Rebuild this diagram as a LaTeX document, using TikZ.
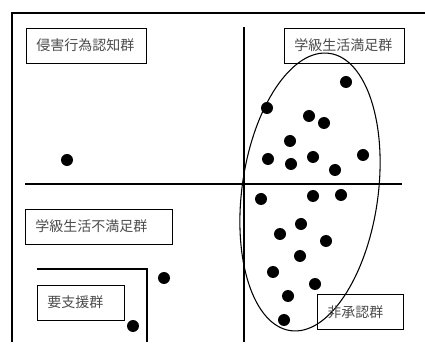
\documentclass[tikz,border=0pt]{standalone}
\usepackage{fontspec}
\newfontfamily\cjk{Noto Sans CJK JP}
\tikzset{
  grp/.style={draw,line width=0.6pt,text=black!70,
    font=\cjk\fontsize{10.5}{12}\selectfont,
    minimum height=26.25pt,inner xsep=7.5pt,align=left},
  dot/.style={circle,fill=black,inner sep=0pt,minimum size=9pt}
}
\begin{document}
\begin{tikzpicture}[x=0.75pt,y=-0.75pt]
  \useasboundingbox (0,0) rectangle (425,345);

  % Frame
  \coordinate (ftr) at (425,13);
  \coordinate (ftl) at (12,13);
  \coordinate (fbl) at (12,342);
  \draw[line width=1.4pt] (ftr) -- (ftl) -- (fbl);

  % Axes
  \coordinate (vt) at (244,27);
  \coordinate (vb) at (244,342);
  \coordinate (hl) at (25,184);
  \coordinate (hr) at (402,184);
  \draw[line width=1pt] (vt) -- (vb);
  \draw[line width=1pt] (hl) -- (hr);

  % Group labels
  \node[grp,anchor=west,text width=75pt] (inv) at (26,45.5) {侵害行為認知群};
  \node[grp,anchor=west,text width=75pt] (sat) at (284,45.5) {学級生活満足群};
  \node[grp,anchor=west,text width=95.25pt] (dis) at (25,226.5) {学級生活不満足群};
  \node[grp,anchor=west,text width=50.25pt] (sup) at (37,302.5) {要支援群};

  % Support bracket
  \coordinate (bl) at (37,269);
  \coordinate (br) at (147,269);
  \coordinate (bb) at (147,342);
  \draw[line width=0.8pt] (bl) -- (br) -- (bb);

  % Points
  \foreach \px/\py [count=\i] in {67/160,346/82,267/108,309/116,324/123,
      290/141,268/159,291/164,313/157,363/155,335/170,261/199,313/196,
      341/195,301/224,280/234,326/241,300/256,273/272,315/284,288/296,
      284/320,164/278,133/326}
    \node[dot] (d\i) at (\px,\py) {};

  % Non-approval group
  \draw[line width=0.8pt,rotate around={-8:(310,192)}] (310,192)
    ellipse [x radius=51pt,y radius=105pt];
  \node[grp,anchor=west,text width=49.5pt] (non) at (317,312) {非承認群};
\end{tikzpicture}
\end{document}
